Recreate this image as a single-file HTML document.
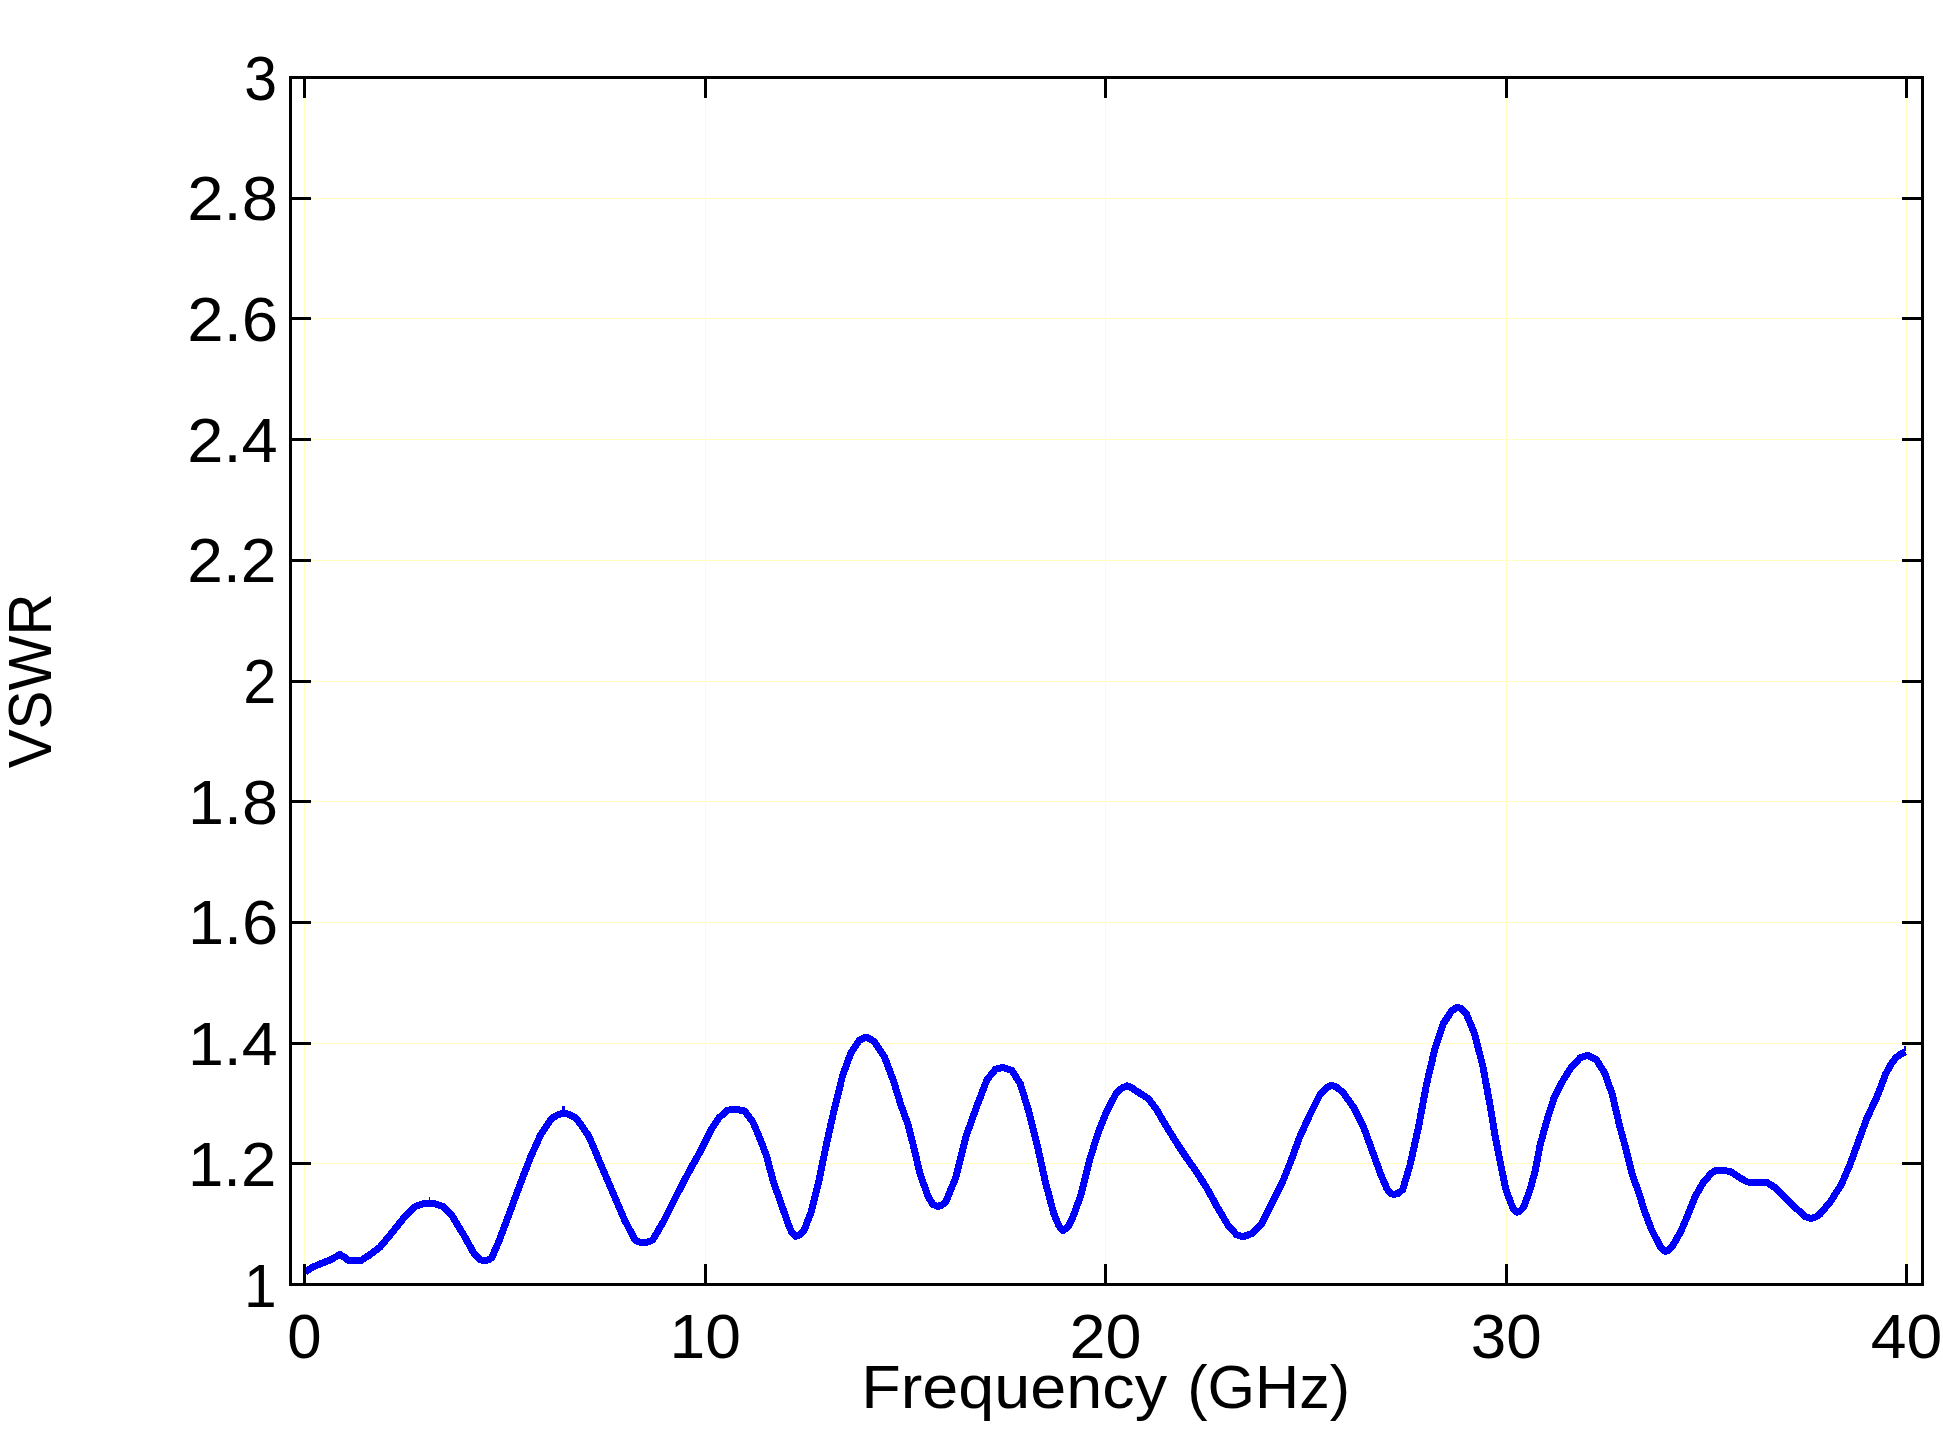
<!DOCTYPE html>
<html lang="en"><head><meta charset="utf-8"><title>VSWR vs Frequency</title>
<style>html,body{margin:0;padding:0;background:#fff;}body{width:1943px;height:1435px;overflow:hidden;}svg{display:block;}text{font-family:"Liberation Sans",sans-serif;fill:#000;}</style>
</head><body>
<svg width="1943" height="1435" viewBox="0 0 1943 1435">
<rect width="1943" height="1435" fill="#fff"/>
<g shape-rendering="crispEdges" fill="#ffffc0">
<rect x="304" y="79" width="1" height="1204"/>
<rect x="705" y="79" width="1" height="1204"/>
<rect x="1105" y="79" width="1" height="1204"/>
<rect x="1506" y="79" width="1" height="1204"/>
<rect x="1906" y="79" width="1" height="1204"/>
<rect x="292" y="1163" width="1629" height="1"/>
<rect x="292" y="1043" width="1629" height="1"/>
<rect x="292" y="922" width="1629" height="1"/>
<rect x="292" y="801" width="1629" height="1"/>
<rect x="292" y="681" width="1629" height="1"/>
<rect x="292" y="560" width="1629" height="1"/>
<rect x="292" y="439" width="1629" height="1"/>
<rect x="292" y="318" width="1629" height="1"/>
<rect x="292" y="198" width="1629" height="1"/>
<rect x="304" y="1163" width="1" height="1" fill="#ffffe6"/>
<rect x="304" y="1043" width="1" height="1" fill="#ffffe6"/>
<rect x="304" y="922" width="1" height="1" fill="#ffffe6"/>
<rect x="304" y="801" width="1" height="1" fill="#ffffe6"/>
<rect x="304" y="681" width="1" height="1" fill="#ffffe6"/>
<rect x="304" y="560" width="1" height="1" fill="#ffffe6"/>
<rect x="304" y="439" width="1" height="1" fill="#ffffe6"/>
<rect x="304" y="318" width="1" height="1" fill="#ffffe6"/>
<rect x="304" y="198" width="1" height="1" fill="#ffffe6"/>
<rect x="705" y="1163" width="1" height="1" fill="#ffffe6"/>
<rect x="705" y="1043" width="1" height="1" fill="#ffffe6"/>
<rect x="705" y="922" width="1" height="1" fill="#ffffe6"/>
<rect x="705" y="801" width="1" height="1" fill="#ffffe6"/>
<rect x="705" y="681" width="1" height="1" fill="#ffffe6"/>
<rect x="705" y="560" width="1" height="1" fill="#ffffe6"/>
<rect x="705" y="439" width="1" height="1" fill="#ffffe6"/>
<rect x="705" y="318" width="1" height="1" fill="#ffffe6"/>
<rect x="705" y="198" width="1" height="1" fill="#ffffe6"/>
<rect x="1105" y="1163" width="1" height="1" fill="#ffffe6"/>
<rect x="1105" y="1043" width="1" height="1" fill="#ffffe6"/>
<rect x="1105" y="922" width="1" height="1" fill="#ffffe6"/>
<rect x="1105" y="801" width="1" height="1" fill="#ffffe6"/>
<rect x="1105" y="681" width="1" height="1" fill="#ffffe6"/>
<rect x="1105" y="560" width="1" height="1" fill="#ffffe6"/>
<rect x="1105" y="439" width="1" height="1" fill="#ffffe6"/>
<rect x="1105" y="318" width="1" height="1" fill="#ffffe6"/>
<rect x="1105" y="198" width="1" height="1" fill="#ffffe6"/>
<rect x="1506" y="1163" width="1" height="1" fill="#ffffe6"/>
<rect x="1506" y="1043" width="1" height="1" fill="#ffffe6"/>
<rect x="1506" y="922" width="1" height="1" fill="#ffffe6"/>
<rect x="1506" y="801" width="1" height="1" fill="#ffffe6"/>
<rect x="1506" y="681" width="1" height="1" fill="#ffffe6"/>
<rect x="1506" y="560" width="1" height="1" fill="#ffffe6"/>
<rect x="1506" y="439" width="1" height="1" fill="#ffffe6"/>
<rect x="1506" y="318" width="1" height="1" fill="#ffffe6"/>
<rect x="1506" y="198" width="1" height="1" fill="#ffffe6"/>
<rect x="1906" y="1163" width="1" height="1" fill="#ffffe6"/>
<rect x="1906" y="1043" width="1" height="1" fill="#ffffe6"/>
<rect x="1906" y="922" width="1" height="1" fill="#ffffe6"/>
<rect x="1906" y="801" width="1" height="1" fill="#ffffe6"/>
<rect x="1906" y="681" width="1" height="1" fill="#ffffe6"/>
<rect x="1906" y="560" width="1" height="1" fill="#ffffe6"/>
<rect x="1906" y="439" width="1" height="1" fill="#ffffe6"/>
<rect x="1906" y="318" width="1" height="1" fill="#ffffe6"/>
<rect x="1906" y="198" width="1" height="1" fill="#ffffe6"/>
</g>
<polyline points="305.0,1272.0 313.0,1267.0 320.0,1264.0 327.6,1261.0 333.0,1258.5 339.8,1254.5 344.0,1257.0 348.5,1260.4 361.1,1260.4 369.5,1255.1 379.9,1247.2 390.4,1234.6 402.9,1219.0 415.5,1206.4 422.0,1204.0 429.7,1203.3 436.0,1204.0 442.6,1206.4 452.0,1215.8 463.5,1234.6 474.0,1253.5 479.0,1259.0 483.4,1260.8 488.0,1260.0 491.8,1257.6 499.1,1240.9 508.5,1215.8 520.0,1184.5 530.5,1157.3 540.9,1134.3 551.4,1118.6 557.0,1115.2 563.7,1113.0 570.0,1114.8 576.5,1118.5 589.0,1136.4 599.5,1161.5 612.0,1190.7 624.6,1220.0 635.0,1239.9 639.0,1242.0 643.4,1242.6 648.0,1242.0 652.8,1239.9 664.3,1220.0 676.8,1194.9 690.0,1169.8 700.5,1151.0 710.9,1130.1 719.3,1117.5 727.6,1110.2 735.0,1109.2 744.4,1110.9 752.7,1121.7 759.0,1136.4 766.3,1155.2 773.6,1182.4 781.0,1203.3 788.3,1224.2 792.0,1233.0 795.6,1236.3 800.0,1235.0 804.0,1230.5 811.3,1211.6 818.6,1182.4 825.9,1146.8 834.3,1109.2 842.6,1075.7 851.0,1052.7 859.4,1040.2 866.0,1037.0 874.0,1041.2 884.5,1056.9 893.9,1082.0 900.4,1103.6 908.0,1124.5 913.4,1145.5 920.0,1174.0 928.4,1197.0 933.0,1204.5 937.8,1206.4 942.0,1205.0 946.1,1201.2 955.5,1178.2 966.0,1136.4 976.5,1107.1 986.9,1079.9 995.3,1069.5 1002.6,1067.4 1012.0,1070.5 1020.4,1084.1 1028.7,1111.3 1037.1,1144.7 1045.5,1182.4 1053.8,1213.7 1059.0,1226.0 1063.2,1230.5 1068.0,1227.0 1072.6,1217.9 1081.0,1194.9 1090.0,1158.5 1098.4,1132.2 1106.7,1111.3 1116.1,1093.5 1122.0,1088.0 1127.2,1085.8 1132.0,1088.0 1137.0,1091.4 1148.5,1098.7 1156.9,1110.2 1167.4,1128.0 1177.8,1144.7 1186.2,1157.3 1196.6,1171.9 1207.1,1188.6 1217.5,1207.5 1228.0,1225.2 1236.4,1234.6 1243.1,1236.7 1252.0,1233.6 1261.5,1224.2 1271.9,1203.3 1282.4,1182.4 1290.7,1161.5 1299.1,1138.5 1309.5,1115.5 1320.0,1094.6 1326.0,1088.0 1331.5,1085.1 1337.0,1087.5 1343.0,1092.5 1353.5,1107.1 1363.9,1128.0 1372.3,1151.0 1380.6,1174.0 1386.9,1188.6 1390.0,1193.0 1393.6,1194.5 1398.0,1193.5 1402.6,1189.7 1409.9,1165.6 1418.3,1128.0 1426.6,1084.1 1435.0,1048.5 1443.4,1023.5 1451.7,1010.9 1457.4,1007.1 1462.0,1009.0 1466.4,1014.0 1474.7,1033.9 1483.1,1067.4 1490.0,1105.0 1495.2,1136.4 1500.5,1163.6 1505.7,1188.6 1510.9,1203.3 1514.0,1210.0 1516.8,1212.1 1520.0,1211.0 1523.5,1207.5 1529.7,1190.7 1535.0,1171.9 1540.2,1144.7 1546.5,1121.7 1553.8,1098.7 1562.1,1082.0 1570.5,1068.4 1579.9,1058.0 1587.9,1055.2 1596.6,1060.0 1605.0,1073.6 1612.3,1094.6 1619.6,1125.9 1625.9,1148.9 1632.2,1174.0 1639.5,1195.0 1644.7,1211.6 1651.0,1228.4 1657.3,1240.9 1661.0,1248.0 1665.2,1251.4 1669.0,1250.0 1673.0,1245.1 1680.3,1232.5 1687.6,1215.8 1694.9,1197.0 1703.3,1182.4 1711.6,1173.0 1716.0,1170.5 1721.0,1170.2 1730.5,1171.5 1738.8,1177.1 1747.2,1182.0 1767.0,1182.4 1776.5,1188.6 1786.9,1199.1 1797.4,1209.5 1805.7,1216.9 1811.0,1218.3 1816.0,1217.0 1820.4,1213.7 1830.8,1201.2 1841.3,1184.5 1849.6,1165.6 1858.0,1142.6 1866.4,1119.6 1870.1,1111.4 1875.8,1099.4 1880.6,1087.4 1885.4,1074.5 1891.0,1064.1 1895.8,1057.7 1901.4,1053.7 1905.4,1051.7" fill="none" stroke="#0000ff" stroke-width="7" stroke-linejoin="round" stroke-linecap="butt" shape-rendering="crispEdges"/>
<g shape-rendering="crispEdges" fill="#0000ff"><rect x="429" y="1197" width="1" height="4"/><rect x="562" y="1106" width="3" height="5"/><rect x="1904" y="1046" width="2" height="5"/></g>
<g shape-rendering="crispEdges" fill="#000">
<rect x="289" y="76" width="3" height="1210"/>
<rect x="1921" y="76" width="3" height="1210"/>
<rect x="289" y="76" width="1635" height="3"/>
<rect x="289" y="1283" width="1635" height="3"/>
<rect x="303" y="76" width="3" height="22"/>
<rect x="303" y="1264" width="3" height="22"/>
<rect x="704" y="76" width="3" height="22"/>
<rect x="704" y="1264" width="3" height="22"/>
<rect x="1104" y="76" width="3" height="22"/>
<rect x="1104" y="1264" width="3" height="22"/>
<rect x="1505" y="76" width="3" height="22"/>
<rect x="1505" y="1264" width="3" height="22"/>
<rect x="1905" y="76" width="3" height="22"/>
<rect x="1905" y="1264" width="3" height="22"/>
<rect x="289" y="1162" width="22" height="3"/>
<rect x="1902" y="1162" width="22" height="3"/>
<rect x="289" y="1042" width="22" height="3"/>
<rect x="1902" y="1042" width="22" height="3"/>
<rect x="289" y="921" width="22" height="3"/>
<rect x="1902" y="921" width="22" height="3"/>
<rect x="289" y="800" width="22" height="3"/>
<rect x="1902" y="800" width="22" height="3"/>
<rect x="289" y="680" width="22" height="3"/>
<rect x="1902" y="680" width="22" height="3"/>
<rect x="289" y="559" width="22" height="3"/>
<rect x="1902" y="559" width="22" height="3"/>
<rect x="289" y="438" width="22" height="3"/>
<rect x="1902" y="438" width="22" height="3"/>
<rect x="289" y="317" width="22" height="3"/>
<rect x="1902" y="317" width="22" height="3"/>
<rect x="289" y="197" width="22" height="3"/>
<rect x="1902" y="197" width="22" height="3"/>
</g>
<g font-size="60">
<text transform="matrix(0.9778 0 0 1.0323 244.00 1306.50)">1</text>
<text transform="matrix(1.0605 0 0 1.0349 187.98 1185.80)">1.2</text>
<text transform="matrix(1.0760 0 0 1.0323 187.91 1065.10)">1.4</text>
<text transform="matrix(1.0829 0 0 1.0349 187.88 944.40)">1.6</text>
<text transform="matrix(1.0791 0 0 1.0349 187.89 823.70)">1.8</text>
<text transform="matrix(0.9882 0 0 1.0349 243.25 703.00)">2</text>
<text transform="matrix(1.0683 0 0 1.0349 187.36 582.30)">2.2</text>
<text transform="matrix(1.0833 0 0 1.0349 187.31 461.60)">2.4</text>
<text transform="matrix(1.0902 0 0 1.0349 187.29 340.90)">2.6</text>
<text transform="matrix(1.0864 0 0 1.0349 187.30 220.20)">2.8</text>
<text transform="matrix(0.9824 0 0 1.0349 244.15 99.50)">3</text>
<text transform="matrix(1.0282 0 0 1.0349 287.27 1357.60)">0</text>
<text transform="matrix(1.0696 0 0 1.0349 669.49 1357.60)">10</text>
<text transform="matrix(1.0791 0 0 1.0349 1069.38 1357.60)">20</text>
<text transform="matrix(1.0637 0 0 1.0349 1470.87 1357.60)">30</text>
<text transform="matrix(1.0717 0 0 1.0349 1870.86 1357.60)">40</text>
<text transform="matrix(1 0 0 1.0230 0 1408.00)"><tspan x="861.16" textLength="323.87" lengthAdjust="spacingAndGlyphs">Frequency </tspan><tspan x="1187.18" textLength="162.90" lengthAdjust="spacingAndGlyphs">(GHz)</tspan></text>
<text transform="matrix(0 -0.9726 1.0182 0 51.20 768.29)">VSWR</text>
</g>
</svg>
</body></html>
